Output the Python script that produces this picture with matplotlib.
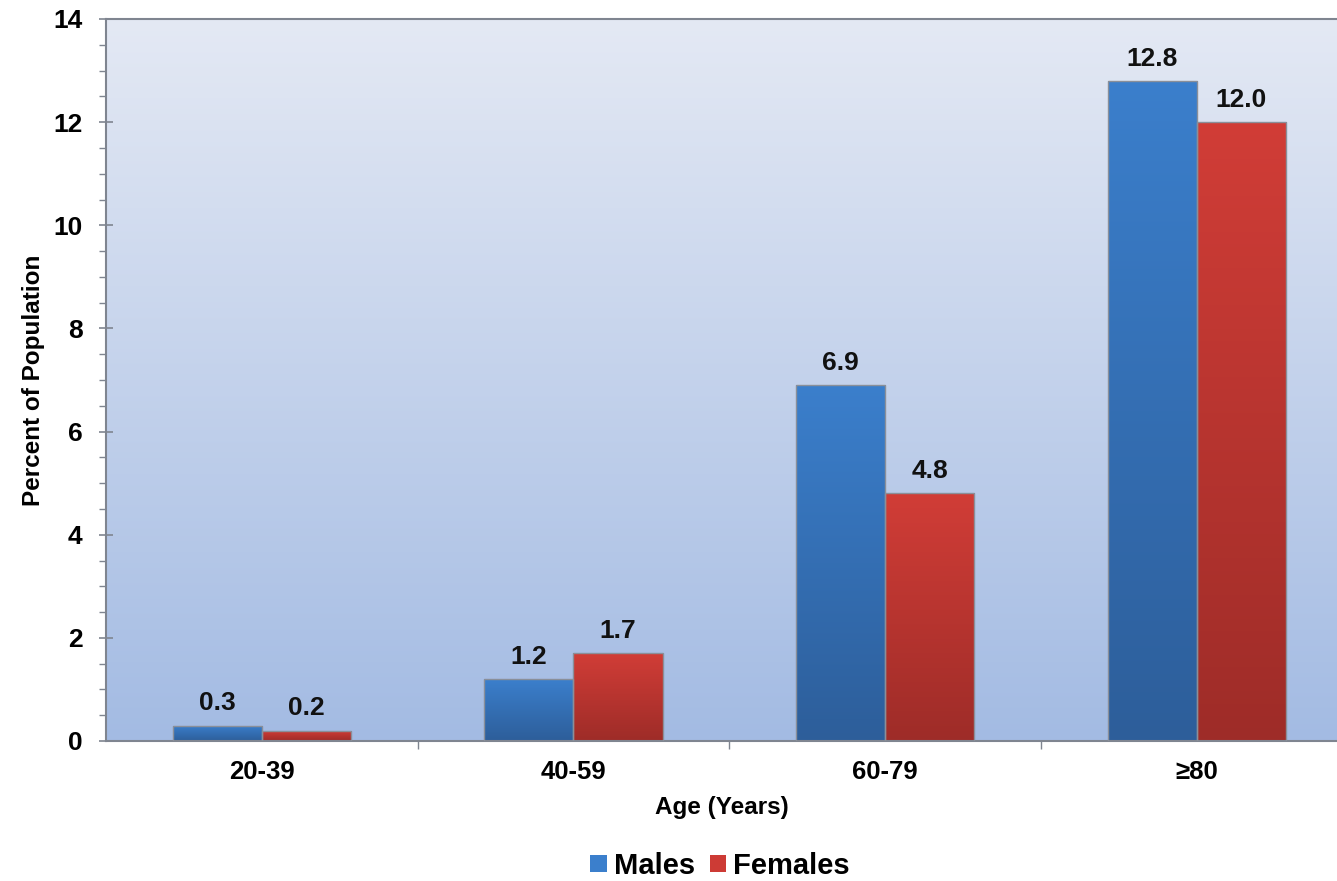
import numpy as np
import matplotlib
matplotlib.use("Agg")
import matplotlib.pyplot as plt
from matplotlib.colors import LinearSegmentedColormap
from matplotlib.patches import Patch
from matplotlib.ticker import MultipleLocator

plt.rcParams["font.family"] = ["Liberation Sans", "DejaVu Sans"]
plt.rcParams["font.weight"] = "bold"

# -- data --
age_groups = ["20-39", "40-59", "60-79", "\u226580"]
males      = [0.3, 1.2, 6.9, 12.8]
females    = [0.2, 1.7, 4.8, 12.0]

W, H = 1337, 881
fig = plt.figure(figsize=(W / 100, H / 100), dpi=100)
ax = fig.add_axes([106 / W, 1 - 741 / H, (W - 106) / W, (741 - 19) / H])

x  = np.arange(len(age_groups))
bw = 0.286

# background gradient
bg = LinearSegmentedColormap.from_list("bg", ["#a3bbe3", "#e4e9f4"])
grad = np.linspace(0, 1, 256).reshape(-1, 1)
ax.imshow(grad, cmap=bg, origin="lower", aspect="auto",
          extent=[0, 1, 0, 1], transform=ax.transAxes, zorder=0)

blue_cm = LinearSegmentedColormap.from_list("b", ["#2d5e9a", "#3b7fcc"])
red_cm  = LinearSegmentedColormap.from_list("r", ["#9e2c28", "#d13d37"])


def grad_bars(xs, vals, cmap):
    bars = ax.bar(xs, vals, bw, color="none", edgecolor="#8a8f99",
                  linewidth=1.0, zorder=3)
    for b in bars:
        x0, y0 = b.get_x(), b.get_y()
        im = ax.imshow(grad, cmap=cmap, origin="lower", aspect="auto",
                       extent=[x0, x0 + b.get_width(), y0, y0 + b.get_height()],
                       zorder=2)
        im.set_clip_path(b)
    return bars


grad_bars(x - bw / 2, males, blue_cm)
grad_bars(x + bw / 2, females, red_cm)

for i in range(len(age_groups)):
    ax.text(x[i] - bw / 2, males[i] + 0.2, f"{males[i]:.1f}", ha="center",
            va="bottom", fontsize=19, fontweight="bold", color="#111111")
    ax.text(x[i] + bw / 2, females[i] + 0.2, f"{females[i]:.1f}", ha="center",
            va="bottom", fontsize=19, fontweight="bold", color="#111111")

ax.set_xlim(-0.5, 3.45)
ax.set_ylim(0, 14)

ax.yaxis.set_major_locator(MultipleLocator(2))
ax.yaxis.set_minor_locator(MultipleLocator(0.5))
ax.tick_params(axis="y", which="major", direction="inout", length=10,
               width=1.2, color="#7f8590", labelsize=19, pad=12)
ax.tick_params(axis="y", which="minor", direction="out", length=5,
               width=1.0, color="#7f8590")

ax.set_xticks(x)
ax.set_xticklabels(age_groups)
ax.set_xticks([0.5, 1.5, 2.5], minor=True)
ax.tick_params(axis="x", which="major", length=0, labelsize=18.5, pad=14)
ax.tick_params(axis="x", which="minor", direction="out", length=6,
               width=1.0, color="#7f8590")

for s in ["left", "bottom", "top"]:
    ax.spines[s].set_color("#7f8590")
    ax.spines[s].set_linewidth(1.5)
ax.spines["right"].set_visible(False)

ax.set_ylabel("Percent of Population", fontsize=17.5, fontweight="bold", labelpad=6)
ax.set_xlabel("Age (Years)", fontsize=17.5, fontweight="bold", labelpad=8)

handles = [Patch(facecolor="#3b7fcc", edgecolor="none", label="Males"),
           Patch(facecolor="#cd3b35", edgecolor="none", label="Females")]
fig.legend(handles=handles, loc="center", bbox_to_anchor=(720 / W, 1 - 866 / H),
           ncol=2, frameon=False, fontsize=21, handlelength=0.55,
           handleheight=0.55, handletextpad=0.25, columnspacing=0.5)

fig.savefig("out.png", dpi=100)
